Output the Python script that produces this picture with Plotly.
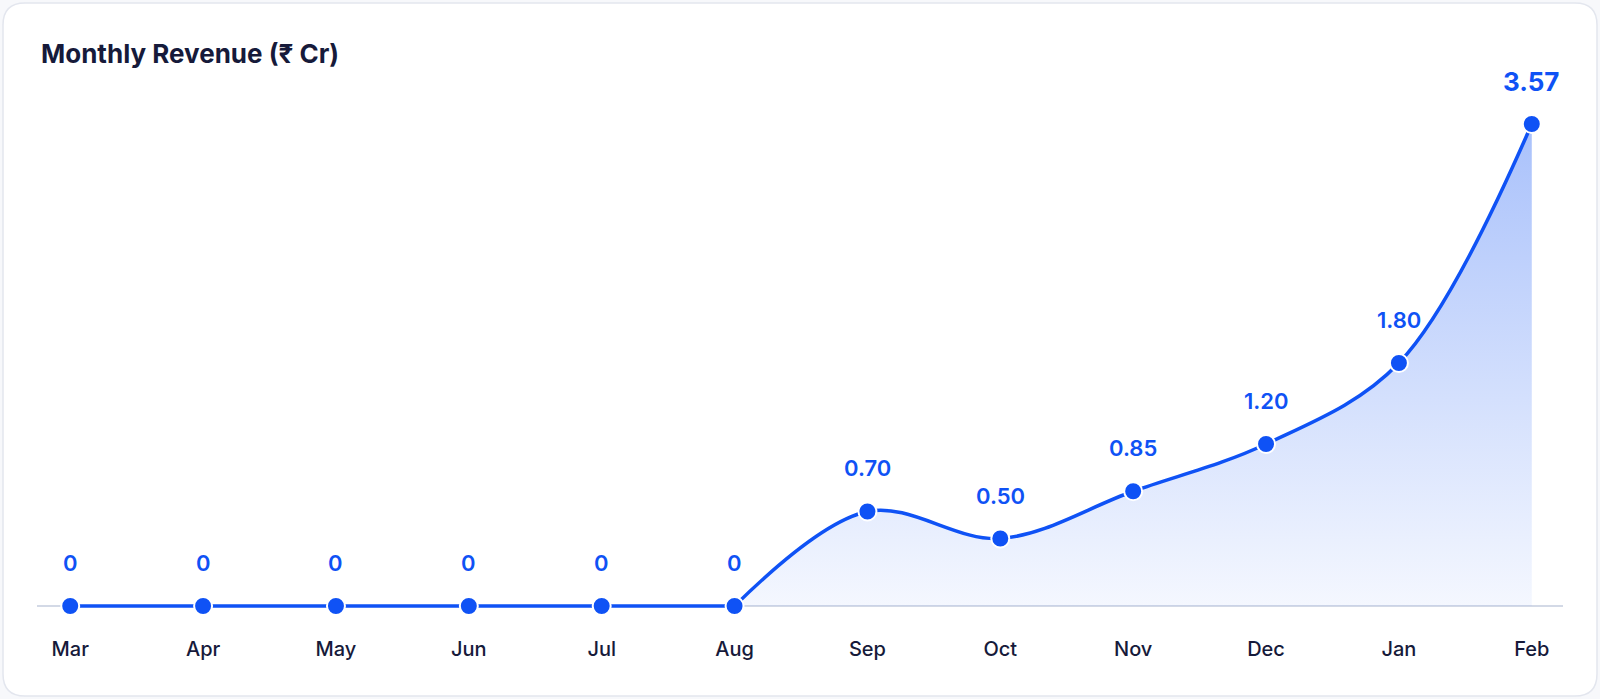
import plotly.graph_objects as go

# data
months = ["Mar", "Apr", "May", "Jun", "Jul", "Aug", "Sep", "Oct", "Nov", "Dec", "Jan", "Feb"]
revenue = [0, 0, 0, 0, 0, 0, 0.70, 0.50, 0.85, 1.20, 1.80, 3.57]
title_text = "Monthly Revenue (₹ Cr)"

BLUE = "#0F52F5"
INK = "#161a3a"
FONT = "Inter"

W, H = 1600, 699
ML, MR, MT, MB = 37, 37, 60, 89
pw, ph = W - ML - MR, H - MT - MB
# zero sits 4px above the plot bottom so the flat line is not clipped
y_min, y_max = -0.0296, 4.044

fig = go.Figure()

# flat part of the series (linear) and the rising part (smoothed, filled)
first = revenue.index(next(v for v in revenue if v > 0)) - 1
fig.add_trace(go.Scatter(
    x=months[:first + 1], y=revenue[:first + 1], mode="lines", cliponaxis=False,
    line=dict(color=BLUE, width=3.5), hoverinfo="skip", showlegend=False))
fig.add_trace(go.Scatter(
    x=months[first:], y=revenue[first:], mode="lines", cliponaxis=False,
    line=dict(color=BLUE, width=3.5, shape="spline", smoothing=1),
    fill="tozeroy",
    fillgradient=dict(type="vertical", start=0, stop=max(revenue),
                      colorscale=[[0, "rgba(40,100,245,0.05)"], [1, "rgba(40,100,245,0.40)"]]),
    hoverinfo="skip", showlegend=False))
fig.add_trace(go.Scatter(
    x=months, y=revenue, mode="markers", cliponaxis=False,
    marker=dict(color=BLUE, size=18, line=dict(color="white", width=2)),
    showlegend=False))

# value labels
for i, (m, v) in enumerate(zip(months, revenue)):
    last = i == len(months) - 1
    fig.add_annotation(
        x=m, y=v, text=f"{v:.2f}" if v else "0", showarrow=False,
        yshift=43, yanchor="middle",
        font=dict(family=FONT, size=26 if last else 22, color=BLUE,
                  weight=700 if last else 600))

fig.add_annotation(
    xref="paper", yref="paper", x=(39 - ML) / pw, y=(H - MB - 53) / ph,
    xanchor="left", yanchor="middle", text=title_text, showarrow=False,
    font=dict(family=FONT, size=26, color=INK, weight=700))

# card background with rounded corners
x0, x1 = (3 - ML) / pw, (W - 3 - ML) / pw
y0, y1 = (H - MB - (H - 3)) / ph, (H - MB - 3) / ph
rx, ry = 22 / pw, 22 / ph
card = (f"M {x0 + rx},{y0} L {x1 - rx},{y0} Q {x1},{y0} {x1},{y0 + ry} "
        f"L {x1},{y1 - ry} Q {x1},{y1} {x1 - rx},{y1} "
        f"L {x0 + rx},{y1} Q {x0},{y1} {x0},{y1 - ry} "
        f"L {x0},{y0 + ry} Q {x0},{y0} {x0 + rx},{y0} Z")
fig.add_shape(type="path", path=card, xref="paper", yref="paper",
              fillcolor="white", line=dict(color="#e3e6ee", width=1.5), layer="below")
# baseline at zero
fig.add_shape(type="line", xref="paper", yref="y", x0=0, x1=1, y0=0, y1=0,
              line=dict(color="#d3d9e6", width=2), layer="below")

fig.update_layout(
    width=W, height=H,
    margin=dict(l=ML, r=MR, t=MT, b=MB),
    paper_bgcolor="#f7f8fb", plot_bgcolor="rgba(0,0,0,0)",
    font=dict(family=FONT),
    xaxis=dict(range=[-0.25, len(months) - 1 + 0.235], showgrid=False, zeroline=False,
               showline=False, ticks="", ticklabelstandoff=25,
               tickfont=dict(family=FONT, size=20, color=INK, weight=500)),
    yaxis=dict(range=[y_min, y_max], visible=False, showgrid=False, zeroline=False),
)

# page has a default body margin; drop it so the card fills the window
fig.write_html("out.html", config={"displayModeBar": False},
               post_script="document.body.style.margin='0';")
